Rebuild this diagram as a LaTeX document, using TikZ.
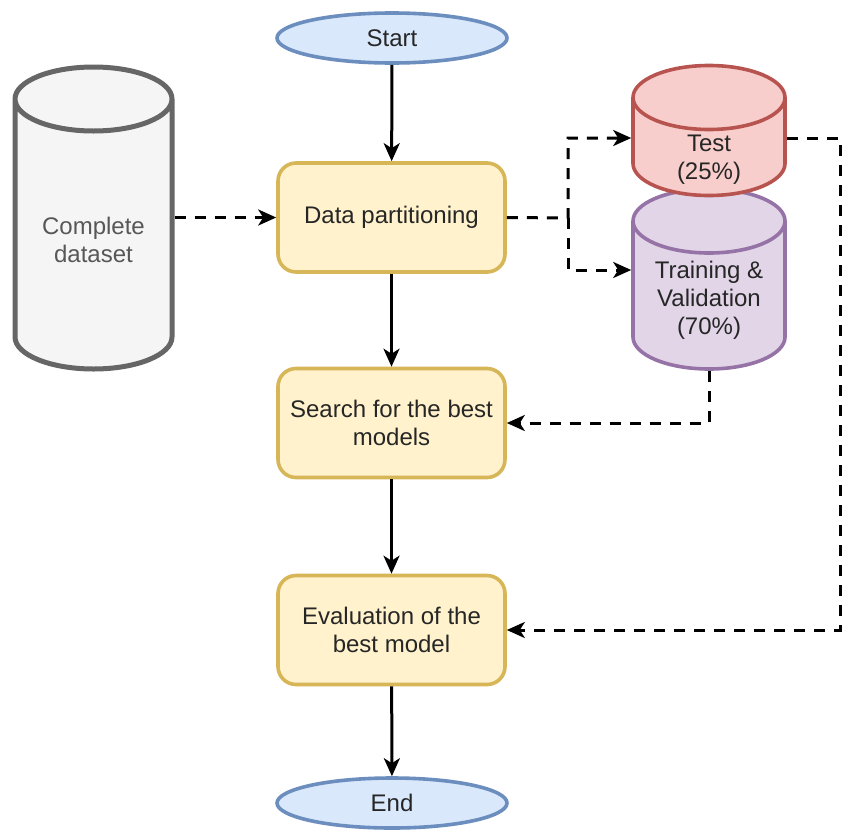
\documentclass[tikz,border=0pt]{standalone}
\usepackage{fontspec}
\setmainfont{Liberation Sans}
\usepackage{tikz}
\usetikzlibrary{shapes.geometric,arrows.meta,positioning}
\definecolor{termfill}{HTML}{DAE8FC}
\definecolor{termline}{HTML}{6C8EBF}
\definecolor{procfill}{HTML}{FFF2CC}
\definecolor{procline}{HTML}{D6B656}
\definecolor{dbfill}{HTML}{F5F5F5}
\definecolor{dbline}{HTML}{666666}
\definecolor{testfill}{HTML}{F8CECC}
\definecolor{testline}{HTML}{B85450}
\definecolor{trainfill}{HTML}{E1D5E7}
\definecolor{trainline}{HTML}{9673A6}
\tikzstyle{term} = [ellipse, draw=termline, fill=termfill, line width=1.8pt, minimum width=115pt, minimum height=25pt, inner sep=0pt]
\tikzstyle{process} = [rectangle, rounded corners=9pt, draw=procline, fill=procfill, line width=1.8pt, minimum width=113.5pt, minimum height=54.5pt, align=center]
\tikzstyle{db} = [cylinder, shape border rotate=90, aspect=0.8, inner sep=0pt, text width=40pt, anchor=shape center]
\tikzstyle{dblabel} = [align=center, text=black!85]
\tikzstyle{arrow} = [line width=1.5pt, -{Stealth[length=9pt,width=8pt,inset=2.5pt]}]
\tikzstyle{dasharrow} = [arrow, dash pattern=on 5.5pt off 4.5pt]

\begin{document}
\begin{tikzpicture}[x=0.5pt, y=-0.5pt, every node/.style={font=\fontsize{12}{14}\selectfont, text=black!85}]
		\useasboundingbox (0,0) rectangle (844,835);
		\coordinate (start) at (392,38);
		\coordinate (partition) at (391.5,217.5);
		\coordinate (search) at (391.5,423);
		\coordinate (evaluation) at (391.5,630);
		\coordinate (end) at (392,803);
		\coordinate (dataset) at (93.5,218);
		\coordinate (trainval) at (709,279);
		\coordinate (test) at (709,130.5);
		% Start and end
		\node[term, name=start] at (start) {Start};
		\node[term, name=end] at (end) {End};
		% Steps
		\node[process, name=partition] at (partition) {Data partitioning};
		\node[process, name=search] at (search) {Search for the best\\models};
		\node[process, name=evaluation] at (evaluation) {Evaluation of the\\best model};
		% Datasets
		\node[db, draw=dbline, fill=dbfill, line width=2.5pt, minimum width=78.5pt, minimum height=151pt, name=dataset] at (dataset) {};
		\node[db, draw=trainline, fill=trainfill, line width=1.8pt, minimum width=76pt, minimum height=90pt, name=trainval] at (trainval) {};
		\node[db, draw=testline, fill=testfill, line width=1.8pt, minimum width=76pt, minimum height=65pt, name=test] at (test) {};
		% Texts in the bodies, below the lids
		\node[dblabel, text=dbline!85!black, name=datasettext] at (93.5,240) {Complete\\dataset};
		\node[dblabel, name=trainvaltext] at (709,300) {Training \&\\Validation\\(70\%)};
		\node[dblabel, name=testtext] at (709,160) {Test\\(25\%)};
		% Flow
		\draw [arrow] (start)--(partition);
		\draw [arrow] (partition)--(search);
		\draw [arrow] (search)--(evaluation);
		\draw [arrow] (evaluation)--(end);
		% Data
		\coordinate (split) at (568,218);
		\coordinate (corner) at (840,138);
		\coordinate (testlevel) at (700,138);
		\coordinate (trainlevel) at (700,270);
		\draw [dasharrow] (dataset.east |- partition.west)--(partition.west);
		\draw [dasharrow] (partition.east)--(split) |- (testlevel -| test.west);
		\draw [dasharrow] (split) |- (trainlevel -| trainval.west);
		\draw [dasharrow] (trainval.south) |- (search.east);
		\draw [dasharrow] (testlevel -| test.east)--(corner) |- (evaluation.east);
\end{tikzpicture}
\end{document}
